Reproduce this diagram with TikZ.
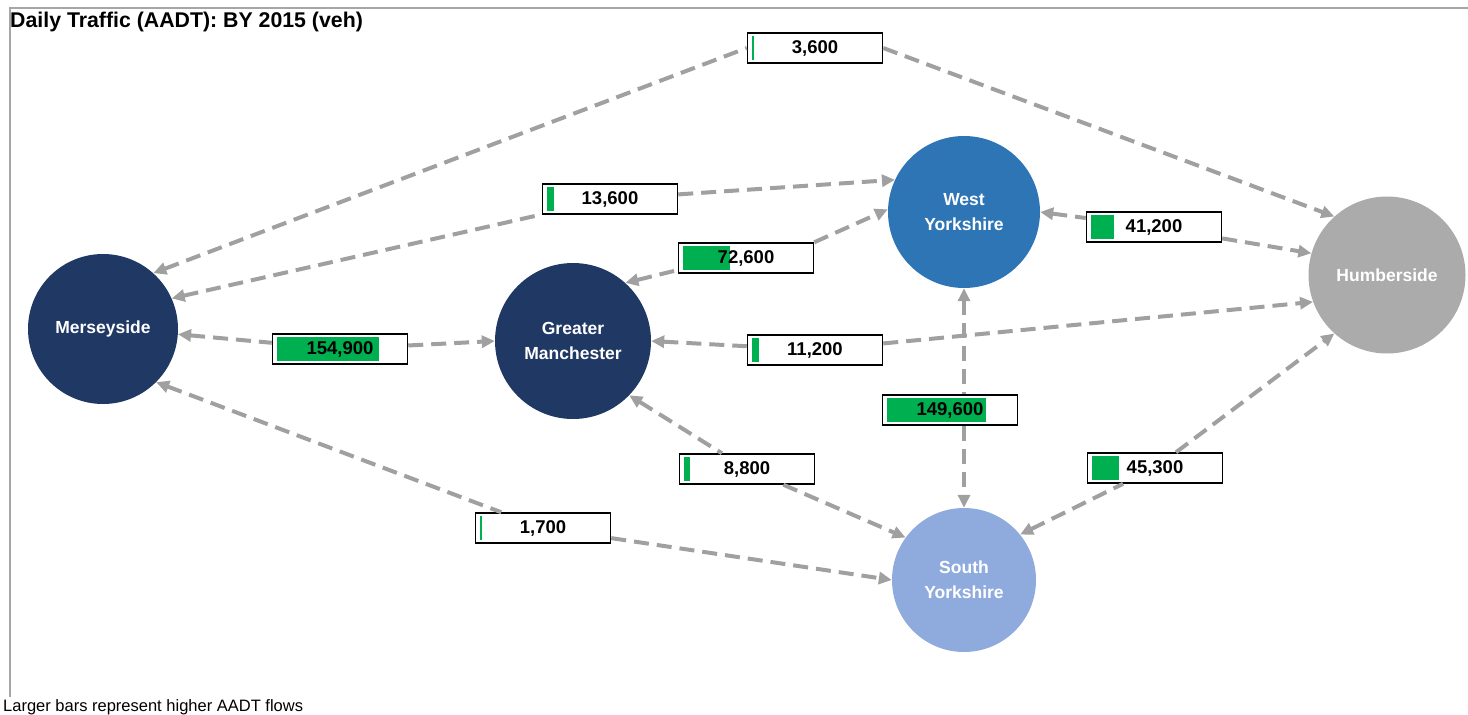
\documentclass[tikz,border=0pt]{standalone}
\usepackage{fontspec}
\setmainfont{Liberation Sans}
\usetikzlibrary{arrows.meta}
\definecolor{navy}{HTML}{203864}
\definecolor{wyblue}{HTML}{2E75B6}
\definecolor{syblue}{HTML}{8FAADC}
\definecolor{humgray}{HTML}{ABABAB}
\definecolor{flowgray}{HTML}{A0A0A0}
\definecolor{bargreen}{HTML}{00B050}
\tikzset{
  >={Triangle[length=13pt, width=12pt]}
}

\begin{document}
\begin{tikzpicture}[x=1pt, y=-1pt] % one unit = one pixel of the screenshot
  % Define styles for regions and flows
  \tikzset{
    region/.style={
      circle,
      inner sep=0pt,
      text=white,
      align=center,
      font=\fontsize{17.5}{25}\selectfont\bfseries
    },
    flowbox/.style={
      draw=black,
      line width=1.5pt,
      fill=white,
      minimum width=135pt,
      minimum height=30pt,
      inner sep=0pt,
      font=\fontsize{18.5}{20}\selectfont\bfseries
    },
    flow/.style={
      draw=flowgray,
      line width=4pt,
      dash pattern=on 15pt off 8pt
    },
    frame/.style={
      draw=black!35,
      line width=1.5pt
    }
  }
  \useasboundingbox (0,0) rectangle (1468,715);

  % Frame and texts
  \draw[frame] (1468,8) -- (10,8) -- (10,697);
  \node[anchor=base west, inner sep=0pt, font=\fontsize{21.3}{24}\selectfont\bfseries] (title) at (10,27) {Daily Traffic (AADT): BY 2015 (veh)};
  \node[anchor=base west, inner sep=0pt, font=\fontsize{16.5}{18}\selectfont] (note) at (3,711) {Larger bars represent higher AADT flows};

  % Regions
  \node[region, fill=navy, minimum size=150pt] (mer) at (103,329) {Merseyside};
  \node[region, fill=navy, minimum size=156pt] (gm) at (573,341) {Greater\\Manchester};
  \node[region, fill=wyblue, minimum size=152pt] (wy) at (964,212) {West\\Yorkshire};
  \node[region, fill=humgray, minimum size=157pt] (hum) at (1387,275) {Humberside};
  \node[region, fill=syblue, minimum size=144pt] (sy) at (964,580) {South\\Yorkshire};

  % Flow boxes, the green bar grows with the flow
  \foreach \name/\x/\y/\w/\val in {
      mh/815/48/2pt/{3,600},
      mw/610/199/7pt/{13,600},
      gw/746/258/47pt/{72,600},
      wh/1154/227/23pt/{41,200},
      mg/340/349/102pt/{154,900},
      gh/815/350/7pt/{11,200},
      ws/950/410/99pt/{149,600},
      gs/747/469/6pt/{8,800},
      sh/1155/468/27pt/{45,300},
      ms/543/528/2pt/{1,700}} {
    \node[flowbox, path picture={
        \fill[bargreen] ([shift={(4pt,3pt)}]path picture bounding box.south west) rectangle ++(\w,24pt);
      }] (\name) at (\x,\y) {\val};
  }

  % Connect regions through their boxes
  \foreach \from/\in/\out/\to in {
      mer.48/mh.west/mh.east/hum.132,
      mer.24/mw/mw/wy.155,
      gm.48/gw.190/gw.13/wy.178,
      wy.east/wh/wh/hum.164,
      mer.-4/mg/mg/gm.west,
      gm.east/gh/gh/hum.200,
      gm.-44/gs/gs/sy.144,
      sy.39/sh/sh/hum.228,
      mer.-45/ms/ms/sy.west} {
    \draw[flow, <-] (\from) -- (\in);
    \draw[flow, ->] (\out) -- (\to);
  }
  \draw[flow, <-] (wy.south) -- (wy.south |- ws.north);
  \draw[flow, ->] (wy.south |- ws.south) -- (sy.north);
\end{tikzpicture}
\end{document}
